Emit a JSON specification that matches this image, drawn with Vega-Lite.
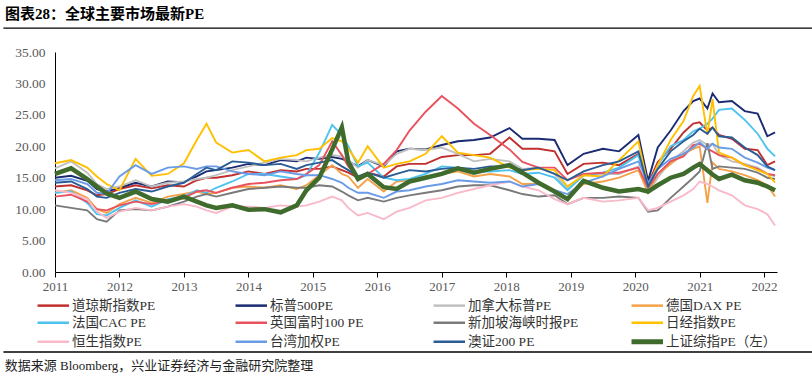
{
  "$schema": "https://vega.github.io/schema/vega-lite/v6.json",
  "width": 722,
  "height": 220,
  "autosize": {"type": "none"},
  "padding": {"left": 55, "top": 52, "right": 35, "bottom": 106},
  "background": "white",
  "config": {
    "font": "Liberation Serif, Noto Sans CJK SC",
    "view": {"stroke": null},
    "axis": {"labelOverlap": false, "labelFlush": false, "grid": false, "domainColor": "#000000", "domainWidth": 1, "labelFont": "Liberation Serif", "labelColor": "#595959"},
    "axisX": {"tickColor": "#000000", "tickSize": 5, "tickWidth": 1, "labelFontSize": 13, "labelPadding": 3},
    "axisY": {"ticks": false, "labelFontSize": 13.5, "labelPadding": 10},
    "legend": {
      "orient": "none",
      "legendX": -8.5,
      "legendY": 245,
      "direction": "horizontal",
      "columns": 4,
      "symbolType": "M-3,0H3",
      "symbolSize": 110,
      "symbolStrokeWidth": 3,
      "labelFontSize": 13.5,
      "labelColor": "#333333",
      "labelFont": "Liberation Serif, Noto Sans CJK SC",
      "columnPadding": 43,
      "rowPadding": -2,
      "gridAlign": "all",
      "labelOffset": 12
    }
  },
  "title": {
    "text": "图表28：全球主要市场最新PE",
    "anchor": "start",
    "frame": "group",
    "dx": -50,
    "offset": 5,
    "fontSize": 15,
    "fontWeight": "bold",
    "color": "#000000",
    "font": "Liberation Serif, Noto Sans CJK SC"
  },
  "resolve": {"axis": {"x": "independent", "y": "independent"}},
  "datasets": {
    "names": [
      {"code": "DJ", "name": "道琼斯指数PE"},
      {"code": "SP", "name": "标普500PE"},
      {"code": "CA", "name": "加拿大标普PE"},
      {"code": "DE", "name": "德国DAX PE"},
      {"code": "FR", "name": "法国CAC PE"},
      {"code": "UK", "name": "英国富时100 PE"},
      {"code": "SG", "name": "新加坡海峡时报PE"},
      {"code": "JP", "name": "日经指数PE"},
      {"code": "HK", "name": "恒生指数PE"},
      {"code": "TW", "name": "台湾加权PE"},
      {"code": "AU", "name": "澳证200 PE"},
      {"code": "SH", "name": "上证综指PE（左）"}
    ],
    "pe": [
      {"t": 2011.0, "DJ": 13.6, "SP": 15.0, "CA": 16.5, "DE": 12.6, "FR": 12.6, "UK": 12.0, "SG": 10.6, "JP": 17.3, "HK": 13.0, "TW": 14.6, "AU": 14.2, "SH": 15.6},
      {"t": 2011.25, "DJ": 13.8, "SP": 15.3, "CA": 17.6, "DE": 13.0, "FR": 12.8, "UK": 12.3, "SG": 10.2, "JP": 17.8, "HK": 12.6, "TW": 14.8, "AU": 14.4, "SH": 16.5},
      {"t": 2011.5, "DJ": 13.0, "SP": 14.5, "CA": 15.8, "DE": 11.8, "FR": 11.0, "UK": 11.2, "SG": 9.8, "JP": 16.6, "HK": 11.6, "TW": 14.0, "AU": 13.2, "SH": 14.8},
      {"t": 2011.65, "DJ": 12.2, "SP": 13.2, "CA": 14.0, "DE": 10.0, "FR": 9.2, "UK": 10.0, "SG": 8.4, "JP": 15.2, "HK": 9.6, "TW": 12.6, "AU": 12.0, "SH": 13.6},
      {"t": 2011.8, "DJ": 12.4, "SP": 12.8, "CA": 13.2, "DE": 9.4, "FR": 9.0, "UK": 9.8, "SG": 8.0, "JP": 14.0, "HK": 8.6, "TW": 12.4, "AU": 11.8, "SH": 12.5},
      {"t": 2012.0, "DJ": 13.2, "SP": 13.4, "CA": 13.6, "DE": 10.8, "FR": 10.2, "UK": 10.6, "SG": 9.8, "JP": 13.0, "HK": 9.6, "TW": 15.2, "AU": 12.6, "SH": 11.8},
      {"t": 2012.25, "DJ": 13.8, "SP": 14.2, "CA": 14.6, "DE": 11.8, "FR": 11.4, "UK": 11.2, "SG": 10.0, "JP": 18.0, "HK": 10.2, "TW": 17.0, "AU": 13.2, "SH": 12.8},
      {"t": 2012.5, "DJ": 13.3, "SP": 13.6, "CA": 13.6, "DE": 11.0, "FR": 10.4, "UK": 10.8, "SG": 9.8, "JP": 15.3, "HK": 9.8, "TW": 15.6, "AU": 12.8, "SH": 11.6},
      {"t": 2012.75, "DJ": 13.8, "SP": 14.4, "CA": 14.2, "DE": 12.0, "FR": 11.6, "UK": 11.4, "SG": 10.4, "JP": 15.6, "HK": 10.4, "TW": 16.6, "AU": 13.6, "SH": 11.2},
      {"t": 2013.0, "DJ": 13.6, "SP": 14.3, "CA": 14.4, "DE": 12.4, "FR": 12.0, "UK": 11.8, "SG": 11.2, "JP": 17.3, "HK": 10.8, "TW": 16.8, "AU": 14.2, "SH": 12.0},
      {"t": 2013.2, "DJ": 14.6, "SP": 15.2, "CA": 14.8, "DE": 12.8, "FR": 13.0, "UK": 12.8, "SG": 12.0, "JP": 21.0, "HK": 10.4, "TW": 16.4, "AU": 15.6, "SH": 11.2},
      {"t": 2013.35, "DJ": 15.0, "SP": 16.0, "CA": 15.0, "DE": 12.4, "FR": 12.6, "UK": 13.0, "SG": 12.4, "JP": 23.6, "HK": 9.8, "TW": 16.8, "AU": 16.6, "SH": 10.6},
      {"t": 2013.5, "DJ": 15.0, "SP": 16.2, "CA": 15.4, "DE": 12.6, "FR": 13.4, "UK": 12.6, "SG": 12.0, "JP": 20.6, "HK": 9.4, "TW": 16.8, "AU": 16.2, "SH": 10.2},
      {"t": 2013.75, "DJ": 15.4, "SP": 16.6, "CA": 16.2, "DE": 13.4, "FR": 14.4, "UK": 13.4, "SG": 12.6, "JP": 19.0, "HK": 10.4, "TW": 16.0, "AU": 17.6, "SH": 10.6},
      {"t": 2014.0, "DJ": 16.0, "SP": 17.2, "CA": 16.8, "DE": 13.6, "FR": 15.6, "UK": 14.0, "SG": 13.2, "JP": 19.4, "HK": 10.4, "TW": 15.6, "AU": 17.4, "SH": 9.9},
      {"t": 2014.25, "DJ": 15.6, "SP": 17.0, "CA": 17.4, "DE": 13.4, "FR": 15.6, "UK": 14.2, "SG": 13.4, "JP": 17.6, "HK": 10.2, "TW": 15.4, "AU": 17.0, "SH": 10.0},
      {"t": 2014.5, "DJ": 16.2, "SP": 17.8, "CA": 18.0, "DE": 13.8, "FR": 15.2, "UK": 14.6, "SG": 13.6, "JP": 18.2, "HK": 10.6, "TW": 16.0, "AU": 17.2, "SH": 9.5},
      {"t": 2014.75, "DJ": 16.0, "SP": 17.6, "CA": 17.8, "DE": 13.2, "FR": 14.8, "UK": 14.8, "SG": 13.4, "JP": 18.6, "HK": 10.4, "TW": 15.6, "AU": 16.4, "SH": 10.6},
      {"t": 2014.9, "DJ": 16.4, "SP": 18.2, "CA": 17.6, "DE": 13.8, "FR": 15.4, "UK": 15.6, "SG": 13.4, "JP": 19.4, "HK": 10.6, "TW": 15.4, "AU": 17.0, "SH": 13.0},
      {"t": 2015.1, "DJ": 16.4, "SP": 18.0, "CA": 18.2, "DE": 15.4, "FR": 19.0, "UK": 17.0, "SG": 13.8, "JP": 19.6, "HK": 11.2, "TW": 15.4, "AU": 17.4, "SH": 15.0},
      {"t": 2015.3, "DJ": 16.8, "SP": 18.3, "CA": 18.6, "DE": 17.0, "FR": 23.4, "UK": 20.8, "SG": 13.6, "JP": 21.3, "HK": 12.0, "TW": 14.8, "AU": 17.8, "SH": 19.5},
      {"t": 2015.45, "DJ": 16.2, "SP": 18.0, "CA": 18.4, "DE": 15.6, "FR": 21.8, "UK": 18.6, "SG": 12.8, "JP": 20.8, "HK": 11.4, "TW": 14.2, "AU": 16.8, "SH": 23.0},
      {"t": 2015.55, "DJ": 15.8, "SP": 17.6, "CA": 17.8, "DE": 15.2, "FR": 20.0, "UK": 16.8, "SG": 12.2, "JP": 19.6, "HK": 10.2, "TW": 13.4, "AU": 16.2, "SH": 17.5},
      {"t": 2015.7, "DJ": 15.0, "SP": 16.8, "CA": 16.6, "DE": 13.4, "FR": 16.8, "UK": 15.0, "SG": 11.4, "JP": 17.4, "HK": 9.0, "TW": 12.6, "AU": 15.2, "SH": 14.8},
      {"t": 2015.85, "DJ": 15.8, "SP": 17.8, "CA": 17.8, "DE": 14.8, "FR": 17.4, "UK": 15.6, "SG": 11.8, "JP": 20.0, "HK": 9.4, "TW": 12.6, "AU": 15.8, "SH": 15.6},
      {"t": 2016.1, "DJ": 15.2, "SP": 16.8, "CA": 17.0, "DE": 12.8, "FR": 15.0, "UK": 17.2, "SG": 11.2, "JP": 16.6, "HK": 8.4, "TW": 11.8, "AU": 15.0, "SH": 13.5},
      {"t": 2016.3, "DJ": 16.8, "SP": 19.2, "CA": 18.8, "DE": 14.4, "FR": 14.6, "UK": 19.4, "SG": 11.8, "JP": 17.2, "HK": 9.6, "TW": 12.8, "AU": 15.6, "SH": 13.2},
      {"t": 2016.5, "DJ": 17.2, "SP": 19.6, "CA": 19.6, "DE": 14.6, "FR": 14.8, "UK": 22.5, "SG": 12.2, "JP": 17.6, "HK": 10.2, "TW": 13.0, "AU": 16.2, "SH": 14.4},
      {"t": 2016.75, "DJ": 17.2, "SP": 19.5, "CA": 19.4, "DE": 15.2, "FR": 15.6, "UK": 25.5, "SG": 12.6, "JP": 18.8, "HK": 11.4, "TW": 13.6, "AU": 16.0, "SH": 15.0},
      {"t": 2017.0, "DJ": 18.3, "SP": 20.2, "CA": 19.8, "DE": 15.6, "FR": 16.8, "UK": 28.0, "SG": 13.0, "JP": 21.6, "HK": 11.8, "TW": 14.0, "AU": 16.4, "SH": 15.6},
      {"t": 2017.25, "DJ": 18.6, "SP": 20.8, "CA": 18.8, "DE": 16.0, "FR": 16.6, "UK": 26.0, "SG": 13.6, "JP": 19.0, "HK": 12.6, "TW": 14.6, "AU": 16.6, "SH": 16.5},
      {"t": 2017.5, "DJ": 18.6, "SP": 21.0, "CA": 17.6, "DE": 15.2, "FR": 16.0, "UK": 23.6, "SG": 13.8, "JP": 18.6, "HK": 13.2, "TW": 14.4, "AU": 16.4, "SH": 15.8},
      {"t": 2017.75, "DJ": 18.8, "SP": 21.4, "CA": 18.0, "DE": 15.6, "FR": 16.0, "UK": 21.8, "SG": 13.8, "JP": 18.2, "HK": 13.8, "TW": 14.2, "AU": 16.8, "SH": 16.4},
      {"t": 2018.05, "DJ": 21.4, "SP": 22.9, "CA": 17.6, "DE": 15.2, "FR": 16.2, "UK": 19.5, "SG": 13.0, "JP": 16.6, "HK": 14.4, "TW": 14.4, "AU": 16.8, "SH": 17.0},
      {"t": 2018.25, "DJ": 19.6, "SP": 21.2, "CA": 16.4, "DE": 14.0, "FR": 15.6, "UK": 17.5, "SG": 12.4, "JP": 16.2, "HK": 13.6, "TW": 13.6, "AU": 16.2, "SH": 15.8},
      {"t": 2018.5, "DJ": 19.6, "SP": 21.2, "CA": 16.6, "DE": 14.0, "FR": 15.8, "UK": 16.6, "SG": 12.0, "JP": 16.4, "HK": 13.0, "TW": 14.0, "AU": 16.6, "SH": 14.2},
      {"t": 2018.75, "DJ": 19.2, "SP": 21.0, "CA": 15.6, "DE": 13.0, "FR": 15.0, "UK": 16.6, "SG": 12.2, "JP": 16.2, "HK": 11.6, "TW": 13.0, "AU": 15.6, "SH": 12.8},
      {"t": 2018.95, "DJ": 15.6, "SP": 17.0, "CA": 13.2, "DE": 11.8, "FR": 13.0, "UK": 14.6, "SG": 10.8, "JP": 13.6, "HK": 10.8, "TW": 12.4, "AU": 14.6, "SH": 11.6},
      {"t": 2019.2, "DJ": 17.2, "SP": 18.8, "CA": 15.4, "DE": 14.0, "FR": 15.4, "UK": 15.6, "SG": 11.8, "JP": 15.4, "HK": 11.8, "TW": 14.2, "AU": 16.0, "SH": 14.5},
      {"t": 2019.5, "DJ": 17.4, "SP": 19.6, "CA": 15.6, "DE": 14.4, "FR": 15.8, "UK": 15.8, "SG": 11.8, "JP": 15.2, "HK": 11.2, "TW": 15.2, "AU": 17.0, "SH": 13.4},
      {"t": 2019.75, "DJ": 17.0, "SP": 19.2, "CA": 15.6, "DE": 15.0, "FR": 16.6, "UK": 15.8, "SG": 12.0, "JP": 17.8, "HK": 11.4, "TW": 16.4, "AU": 17.6, "SH": 12.8},
      {"t": 2020.05, "DJ": 18.8, "SP": 21.8, "CA": 16.8, "DE": 16.2, "FR": 18.6, "UK": 16.6, "SG": 11.8, "JP": 20.8, "HK": 11.8, "TW": 17.6, "AU": 19.2, "SH": 13.2},
      {"t": 2020.2, "DJ": 14.0, "SP": 14.5, "CA": 12.6, "DE": 12.6, "FR": 13.2, "UK": 13.4, "SG": 9.6, "JP": 13.6, "HK": 9.8, "TW": 14.2, "AU": 13.6, "SH": 12.8},
      {"t": 2020.35, "DJ": 17.5, "SP": 19.8, "CA": 15.0, "DE": 15.6, "FR": 17.0, "UK": 15.6, "SG": 9.8, "JP": 17.0, "HK": 10.2, "TW": 16.4, "AU": 16.4, "SH": 13.8},
      {"t": 2020.55, "DJ": 19.6, "SP": 22.5, "CA": 17.6, "DE": 17.2, "FR": 20.0, "UK": 17.6, "SG": 11.8, "JP": 21.0, "HK": 11.2, "TW": 18.0, "AU": 19.2, "SH": 15.0},
      {"t": 2020.75, "DJ": 22.2, "SP": 25.6, "CA": 19.2, "DE": 18.8, "FR": 21.0, "UK": 18.4, "SG": 13.6, "JP": 24.0, "HK": 12.2, "TW": 18.8, "AU": 20.8, "SH": 15.6},
      {"t": 2020.9, "DJ": 23.6, "SP": 27.2, "CA": 20.6, "DE": 19.6, "FR": 22.4, "UK": 20.2, "SG": 15.0, "JP": 28.0, "HK": 13.2, "TW": 19.8, "AU": 21.8, "SH": 16.6},
      {"t": 2021.0, "DJ": 23.8, "SP": 27.6, "CA": 21.0, "DE": 20.0, "FR": 22.8, "UK": 20.4, "SG": 16.0, "JP": 29.6, "HK": 14.4, "TW": 20.6, "AU": 22.8, "SH": 17.2},
      {"t": 2021.12, "DJ": 22.5, "SP": 26.0, "CA": 20.2, "DE": 11.0, "FR": 23.6, "UK": 19.6, "SG": 20.5, "JP": 21.8, "HK": 14.0, "TW": 19.6, "AU": 22.0, "SH": 16.2},
      {"t": 2021.2, "DJ": 23.0, "SP": 28.4, "CA": 20.4, "DE": 17.4, "FR": 24.4, "UK": 19.2, "SG": 16.4, "JP": 27.5, "HK": 13.6, "TW": 20.4, "AU": 23.0, "SH": 15.5},
      {"t": 2021.3, "DJ": 21.8, "SP": 27.0, "CA": 18.6, "DE": 16.4, "FR": 25.8, "UK": 18.6, "SG": 16.8, "JP": 19.0, "HK": 13.0, "TW": 19.8, "AU": 21.6, "SH": 14.8},
      {"t": 2021.5, "DJ": 21.2, "SP": 27.2, "CA": 17.6, "DE": 16.0, "FR": 26.0, "UK": 18.2, "SG": 16.6, "JP": 18.2, "HK": 12.2, "TW": 19.6, "AU": 21.4, "SH": 15.5},
      {"t": 2021.7, "DJ": 19.6, "SP": 25.6, "CA": 17.2, "DE": 15.4, "FR": 24.2, "UK": 17.0, "SG": 16.4, "JP": 17.0, "HK": 10.6, "TW": 18.2, "AU": 19.8, "SH": 14.6},
      {"t": 2021.9, "DJ": 19.4, "SP": 25.2, "CA": 16.6, "DE": 14.6, "FR": 22.0, "UK": 16.4, "SG": 15.8, "JP": 16.2, "HK": 10.0, "TW": 17.4, "AU": 18.6, "SH": 14.2},
      {"t": 2022.05, "DJ": 17.0, "SP": 21.6, "CA": 15.6, "DE": 13.8, "FR": 19.6, "UK": 15.6, "SG": 15.0, "JP": 15.6, "HK": 9.2, "TW": 16.6, "AU": 16.8, "SH": 13.6},
      {"t": 2022.17, "DJ": 17.6, "SP": 22.2, "CA": 15.2, "DE": 12.0, "FR": 18.4, "UK": 15.4, "SG": 14.8, "JP": 14.2, "HK": 7.4, "TW": 16.2, "AU": 16.2, "SH": 13.0}
    ]
  },
  "layer": [
    {
      "data": {"name": "pe"},
      "transform": [
        {"fold": ["DJ", "SP", "CA", "DE", "FR", "UK", "SG", "JP", "HK", "TW", "AU", "SH"], "as": ["code", "v"]},
        {"lookup": "code", "from": {"data": {"name": "names"}, "key": "code", "fields": ["name"]}},
        {"filter": {"not": {"field": "code", "equal": "SH"}}}
      ],
      "mark": {"type": "line", "strokeWidth": 1.9},
      "encoding": {
        "x": {
          "field": "t", "type": "quantitative",
          "scale": {"domain": [2011, 2022.2], "nice": false, "zero": false},
          "axis": {"values": [2011, 2012, 2013, 2014, 2015, 2016, 2017, 2018, 2019, 2020, 2021, 2022], "format": "d", "title": null, "labelOverlap": false}
        },
        "y": {
          "field": "v", "type": "quantitative",
          "scale": {"domain": [0, 35], "nice": false},
          "axis": {"values": [0, 5, 10, 15, 20, 25, 30, 35], "format": ".2f", "title": null, "labelOverlap": false}
        },
        "color": {
          "field": "name", "type": "nominal",
          "scale": {
            "domain": ["道琼斯指数PE", "标普500PE", "加拿大标普PE", "德国DAX PE", "法国CAC PE", "英国富时100 PE", "新加坡海峡时报PE", "日经指数PE", "恒生指数PE", "台湾加权PE", "澳证200 PE", "上证综指PE（左）"],
            "range": ["#C0302E", "#1A2B72", "#C0C0C0", "#F4A24A", "#4EC3F0", "#E8535F", "#7A7A7A", "#FFC000", "#F9B9C9", "#6A9BE6", "#2A5D96", "#3F6B2C"]
          },
          "legend": {
            "title": null,
            "encode": {"symbols": {"update": {"strokeWidth": {"signal": "datum.value === '上证综指PE（左）' ? 5 : 2.5"}}}}
          }
        }
      }
    },
    {
      "data": {"name": "pe"},
      "transform": [
        {"fold": ["DJ", "SP", "CA", "DE", "FR", "UK", "SG", "JP", "HK", "TW", "AU", "SH"], "as": ["code", "v"]},
        {"lookup": "code", "from": {"data": {"name": "names"}, "key": "code", "fields": ["name"]}},
        {"filter": {"field": "code", "equal": "SH"}}
      ],
      "mark": {"type": "line", "strokeWidth": 4.5},
      "encoding": {
        "x": {"field": "t", "type": "quantitative", "axis": null},
        "y": {"field": "v", "type": "quantitative", "axis": null},
        "color": {"field": "name", "type": "nominal"}
      }
    },
    {
      "data": {"values": [{}]},
      "mark": {"type": "rule", "color": "#000000", "strokeWidth": 1.3},
      "encoding": {
        "x": {"datum": 2010.2, "axis": null},
        "x2": {"datum": 2022.76},
        "y": {"datum": 38.8, "axis": null}
      }
    },
    {
      "data": {"values": [{}]},
      "mark": {"type": "rule", "color": "#000000", "strokeWidth": 1.3},
      "encoding": {
        "x": {"datum": 2010.2, "axis": null},
        "x2": {"datum": 2022.76},
        "y": {"datum": -12.73, "axis": null}
      }
    },
    {
      "data": {"values": [{"txt": "数据来源 Bloomberg，兴业证券经济与金融研究院整理"}]},
      "mark": {"type": "text", "align": "left", "baseline": "middle", "fontSize": 13, "color": "#222222", "font": "Liberation Serif, Noto Sans CJK SC"},
      "encoding": {
        "x": {"datum": 2010.22, "axis": null},
        "y": {"datum": -14.95, "axis": null},
        "text": {"field": "txt"}
      }
    }
  ]
}
